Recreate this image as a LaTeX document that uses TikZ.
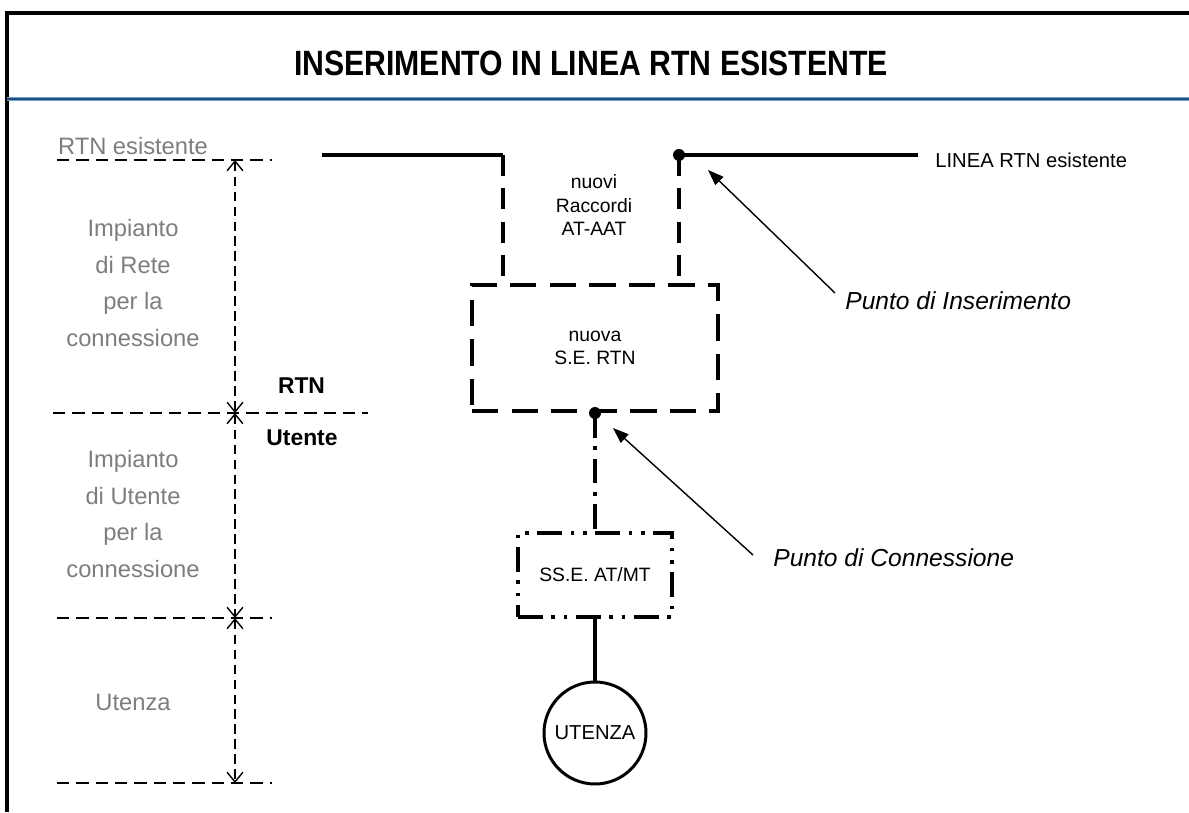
\documentclass[tikz,border=0pt]{standalone}
\usepackage{fontspec}
\setmainfont{Liberation Sans}
\newfontfamily\titlefont[FakeStretch=0.86]{Liberation Sans}
\usetikzlibrary{arrows.meta}
\definecolor{labelgray}{RGB}{125,125,125}
\definecolor{framedark}{RGB}{32,78,122}
\definecolor{framelight}{RGB}{112,160,204}
\tikzset{
  graytext/.style={text=labelgray, align=center, font=\fontsize{13.5}{21}\selectfont},
  sidelabel/.style={font=\fontsize{13}{15}\selectfont\bfseries},
  boxtext/.style={align=center, font=\fontsize{11}{13.5}\selectfont},
  notetext/.style={anchor=west, inner sep=0pt, font=\fontsize{14}{16}\selectfont\itshape},
  levelline/.style={line width=1.1pt, dash pattern=on 7pt off 4pt},
  dimline/.style={line width=0.7pt, dash pattern=on 5.5pt off 3pt,
    {Straight Barb[length=5.5pt,width=9pt,line width=0.8pt]}-{Straight Barb[length=5.5pt,width=9pt,line width=0.8pt]}},
  feeder/.style={line width=2pt},
  raccordo/.style={line width=2.2pt, dash pattern=on 12pt off 7pt},
  sebox/.style={draw, line width=2.3pt, dash pattern=on 15pt off 7.5pt, inner sep=0pt,
    minimum width=4.92cm, minimum height=2.52cm, boxtext},
  ssebox/.style={draw, line width=2.3pt, dash pattern=on 14pt off 5pt on 2pt off 5pt on 2pt off 5pt,
    inner sep=0pt, minimum width=3.08cm, minimum height=1.68cm, boxtext},
  dashdot/.style={line width=2.2pt, dash pattern=on 14pt off 5pt on 2pt off 5pt},
  pointer/.style={line width=0.8pt, -{Triangle[length=9pt,width=6.5pt]}}
}
\begin{document}
\begin{tikzpicture}
  \useasboundingbox (0,0) rectangle (23.78,16.24);

  % Frame and title bar
  \draw [line width=1.9pt] (0.14,0) -- (0.14,15.98) -- (23.78,15.98);%
  \draw [framelight, line width=2.6pt] (0.14,14.26) -- (23.78,14.26);%
  \draw [framedark, line width=1.4pt] (0.14,14.26) -- (23.78,14.26);%
  \node (title) at (11.82,14.98) {\titlefont\fontsize{20}{22}\selectfont\bfseries INSERIMENTO IN LINEA RTN ESISTENTE};%

  % Levels on the left
  \coordinate (lv1) at (4.70,13.04);
  \coordinate (lv2) at (4.70,7.98);
  \coordinate (lv3) at (4.70,3.88);
  \coordinate (lv4) at (4.70,0.58);
  \draw [levelline] (1.14,13.04) -- (5.44,13.04);%
  \draw [levelline] (1.06,7.98) -- (7.36,7.98);%
  \draw [levelline] (1.14,3.88) -- (5.44,3.88);%
  \draw [levelline] (1.14,0.58) -- (5.44,0.58);%
  \draw [dimline] (lv1) -- (lv2);%
  \draw [dimline] (lv2) -- (lv3);%
  \draw [dimline] (lv3) -- (lv4);%

  \node [graytext] (rtnold) at (2.66,13.32) {RTN esistente};%
  \node [graytext] (rete) at (2.66,10.58) {Impianto\\di Rete\\per la\\connessione};%
  \node [graytext] (utimp) at (2.66,5.96) {Impianto\\di Utente\\per la\\connessione};%
  \node [graytext] (utenzatxt) at (2.66,2.20) {Utenza};%
  \node [sidelabel] (rtn) at (6.03,8.52) {RTN};%
  \node [sidelabel] (utente) at (6.04,7.48) {Utente};%

  % New substation and its links to the existing line
  \node [sebox] (se) at (11.90,9.28) {nuova\\S.E. RTN};%
  \coordinate (racc) at (10.06,13.14);
  \coordinate (ins) at (13.58,13.14);
  \draw [feeder] (6.44,13.14) -- (racc);%
  \draw [raccordo] (racc) -- (racc |- se.north);%
  \draw [raccordo] (ins) -- (ins |- se.north);%
  \draw [feeder] (ins) -- (18.36,13.14);%
  \fill (ins) circle (0.12);%
  \node [boxtext, anchor=west, inner sep=0pt, font=\fontsize{11.5}{14}\selectfont] (linea) at (18.70,13.04) {LINEA RTN esistente};%
  \node [boxtext] (racctxt) at (11.88,12.14) {nuovi\\Raccordi\\AT-AAT};%

  % User side
  \coordinate (conn) at (se.south);
  \node [ssebox] (sse) at (11.90,4.74) {SS.E. AT/MT};%
  \draw [dashdot] (conn) -- (sse.north);%
  \fill (conn) circle (0.12);%
  \node [circle, draw, line width=1.7pt, minimum size=2.04cm, inner sep=0pt, font=\fontsize{11.5}{14}\selectfont] (utenza) at (11.90,1.58) {UTENZA};%
  \draw [feeder] (sse.south) -- (utenza.north);%

  % Pointers
  \node [notetext] (pins) at (16.90,10.22) {Punto di Inserimento};%
  \coordinate (pinstail) at (16.70,10.38);
  \coordinate (pinshead) at (14.16,12.84);
  \draw [pointer] (pinstail) -- (pinshead);%
  \node [notetext] (pconn) at (15.46,5.08) {Punto di Connessione};%
  \coordinate (pconntail) at (15.06,5.14);
  \coordinate (pconnhead) at (12.26,7.68);
  \draw [pointer] (pconntail) -- (pconnhead);%
\end{tikzpicture}
\end{document}
